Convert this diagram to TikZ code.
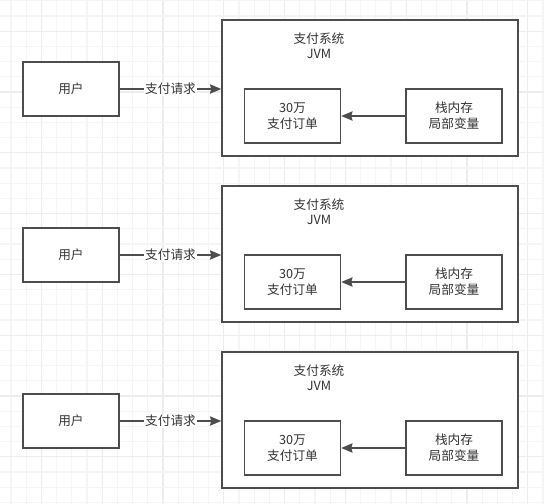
\documentclass[tikz,border=0pt]{standalone}
\usepackage{fontspec}
\usepackage{xcolor}
\usetikzlibrary{arrows.meta,positioning}
\setmainfont{Noto Sans CJK SC}

\definecolor{edgegray}{HTML}{4D4D4D}
\definecolor{textgray}{HTML}{333333}

\tikzset{
  box/.style={draw=edgegray, line width=1.1pt, fill=white, text=textgray,
    minimum width=72pt, minimum height=40.5pt, inner sep=0pt, align=center,
    font=\fontsize{9.5pt}{12pt}\selectfont},
  sysbox/.style={draw=edgegray, line width=1.1pt, fill=white,
    minimum width=222pt, minimum height=102pt, inner sep=0pt},
  title/.style={text=textgray, align=center, inner sep=0pt,
    font=\fontsize{9.5pt}{11.5pt}\selectfont},
  req/.style={fill=white, text=textgray, inner sep=1pt,
    font=\fontsize{9.5pt}{12pt}\selectfont},
  flow/.style={draw=edgegray, line width=1.1pt,
    -{Stealth[length=8.5pt, width=7pt, inset=1pt]}},
  gridminor/.style={draw=gray!8, line width=0.8pt},
  gridmajor/.style={draw=gray!14, line width=0.8pt}
}

\begin{document}
\begin{tikzpicture}[x=0.75pt, y=-0.75pt]
  \useasboundingbox (0,0) rectangle (544,504);
  % background grid
  \foreach \gx in {0,...,35} {
    \pgfmathtruncatemacro{\gm}{mod(\gx,4)}
    \ifnum\gm=2 \draw[gridmajor] ({11+15.2*\gx},0) -- ++(0,504);
    \else \draw[gridminor] ({11+15.2*\gx},0) -- ++(0,504); \fi
  }
  \foreach \gy in {0,...,33} {
    \pgfmathtruncatemacro{\gm}{mod(\gy,4)}
    \ifnum\gm=2 \draw[gridmajor] (0,{0.8+15.2*\gy}) -- ++(544,0);
    \else \draw[gridminor] (0,{0.8+15.2*\gy}) -- ++(544,0); \fi
  }

  % first system
  \node[box] (user1) at (71,89) {用户};
  \node[sysbox] (sys1) at (370,88) {};
  \node[title] (jvm1) at (319,46) {支付系统\\JVM};
  \node[box] (order1) at (292.5,116) {30万\\支付订单};
  \node[box] (stack1) at (454,116) {栈内存\\局部变量};
  \draw[flow] (user1) -- node[req] (pay1) {支付请求} (sys1.west |- user1);
  \draw[flow] (stack1) -- (order1);

  % second system
  \node[box] (user2) at (71,255) {用户};
  \node[sysbox] (sys2) at (370,254) {};
  \node[title] (jvm2) at (319,212) {支付系统\\JVM};
  \node[box] (order2) at (292.5,282) {30万\\支付订单};
  \node[box] (stack2) at (454,282) {栈内存\\局部变量};
  \draw[flow] (user2) -- node[req] (pay2) {支付请求} (sys2.west |- user2);
  \draw[flow] (stack2) -- (order2);

  % third system
  \node[box] (user3) at (71,421) {用户};
  \node[sysbox] (sys3) at (370,420) {};
  \node[title] (jvm3) at (319,378) {支付系统\\JVM};
  \node[box] (order3) at (292.5,448) {30万\\支付订单};
  \node[box] (stack3) at (454,448) {栈内存\\局部变量};
  \draw[flow] (user3) -- node[req] (pay3) {支付请求} (sys3.west |- user3);
  \draw[flow] (stack3) -- (order3);
\end{tikzpicture}
\end{document}
